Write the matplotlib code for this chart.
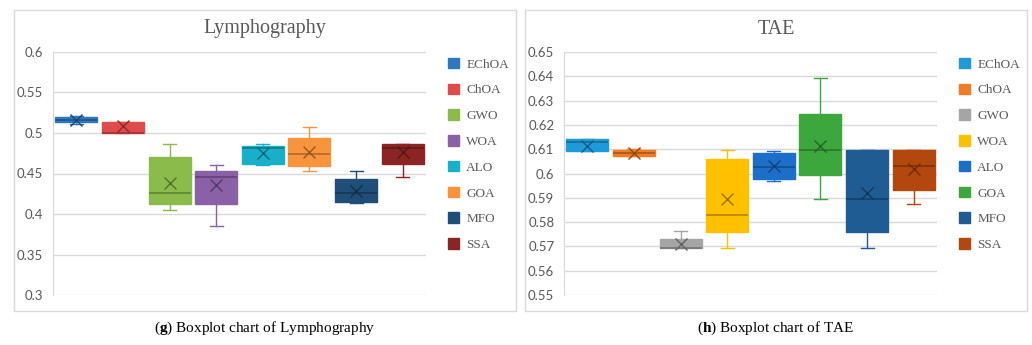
import matplotlib
matplotlib.use("Agg")
import matplotlib.pyplot as plt
from matplotlib.patches import Rectangle, Patch
from matplotlib.colors import to_rgb

# data
algos = ["EChOA", "ChOA", "GWO", "WOA", "ALO", "GOA", "MFO", "SSA"]

lym_min = [0.511, 0.500, 0.405, 0.385, 0.460, 0.453, 0.413, 0.446]
lym_q1 = [0.513, 0.500, 0.412, 0.412, 0.462, 0.459, 0.415, 0.462]
lym_med = [0.516, 0.500, 0.426, 0.446, 0.481, 0.474, 0.426, 0.481]
lym_q3 = [0.520, 0.514, 0.470, 0.453, 0.484, 0.494, 0.443, 0.487]
lym_max = [0.521, 0.514, 0.487, 0.460, 0.487, 0.508, 0.453, 0.487]
lym_mean = [0.516, 0.509, 0.438, 0.436, 0.475, 0.476, 0.428, 0.476]

tae_min = [0.6093, 0.6070, 0.5693, 0.5695, 0.5968, 0.5894, 0.5695, 0.5874]
tae_q1 = [0.6093, 0.6072, 0.5693, 0.5760, 0.5979, 0.5992, 0.5760, 0.5933]
tae_med = [0.6128, 0.6086, 0.5693, 0.5828, 0.6025, 0.6095, 0.5894, 0.6032]
tae_q3 = [0.6142, 0.6098, 0.5729, 0.6060, 0.6084, 0.6245, 0.6095, 0.6095]
tae_max = [0.6142, 0.6100, 0.5762, 0.6095, 0.6094, 0.6392, 0.6095, 0.6095]
tae_mean = [0.6115, 0.6086, 0.5710, 0.5895, 0.6032, 0.6112, 0.5921, 0.6017]

lym_colors = ["#2E78BE", "#E04A4A", "#8BBB4A", "#8A60A6", "#19AFC8", "#F9943C", "#1F4E79", "#8C2424"]
tae_colors = ["#1E9AD8", "#F27B25", "#A5A5A5", "#FFC000", "#1C6FC9", "#3CA73C", "#1F5C94", "#B4470E"]

lym_ticks = [0.3, 0.35, 0.4, 0.45, 0.5, 0.55, 0.6]
lym_ticklabels = ["0.3", "0.35", "0.4", "0.45", "0.5", "0.55", "0.6"]
tae_ticks = [0.55, 0.56, 0.57, 0.58, 0.59, 0.6, 0.61, 0.62, 0.63, 0.64, 0.65]
tae_ticklabels = ["0.55", "0.56", "0.57", "0.58", "0.59", "0.6", "0.61", "0.62", "0.63", "0.64", "0.65"]

plt.rcParams["mathtext.fontset"] = "custom"
plt.rcParams["mathtext.rm"] = "Liberation Serif"
plt.rcParams["mathtext.bf"] = "Liberation Serif:bold"

SERIF = "Liberation Serif"
SANS = "Lato"
GRID = "#D9D9D9"
TXT = "#595959"

W, H = 1032, 345
fig = plt.figure(figsize=(W / 100, H / 100), dpi=100)


def darker(c, f=0.7):
    r, g, b = to_rgb(c)
    return (r * f, g * f, b * f)


def panel(px0, px1, title, caption, mins, q1s, meds, q3s, maxs, means, colors, ticks, ticklabels):
    # outer frame
    fig.patches.append(Rectangle((px0 / W, 1 - 311 / H), (px1 - px0) / W, 301 / H,
                                 transform=fig.transFigure, fill=False, ec="#D9D9D9", lw=1))
    ax = fig.add_axes([(px0 + 39) / W, 50 / H, 373 / W, 243 / H])
    stats = []
    for i in range(len(algos)):
        stats.append(dict(med=meds[i], q1=q1s[i], q3=q3s[i], whislo=mins[i],
                          whishi=maxs[i], mean=means[i], fliers=[]))
    pos = list(range(1, len(algos) + 1))
    bp = ax.bxp(stats, positions=pos, widths=0.9, patch_artist=True, showmeans=True,
                capwidths=0.28, zorder=3)
    for i, c in enumerate(colors):
        bp["boxes"][i].set(facecolor=c, edgecolor=c, linewidth=1)
        bp["medians"][i].set(color=darker(c), linewidth=1.2)
        bp["means"][i].set(marker="x", markeredgecolor=darker(c, 0.6), markersize=8,
                           markeredgewidth=1)
        for ln in bp["whiskers"][2 * i:2 * i + 2] + bp["caps"][2 * i:2 * i + 2]:
            ln.set(color=c, linewidth=1)

    ax.set_xlim(0.5, len(algos) + 0.5)
    ax.set_ylim(ticks[0], ticks[-1])
    ax.set_yticks(ticks)
    ax.set_yticklabels(ticklabels, fontfamily=SANS, fontsize=9.5, color=TXT)
    ax.set_xticks([])
    ax.tick_params(axis="y", length=0, pad=7)
    ax.grid(axis="y", color=GRID, linewidth=1, zorder=0)
    ax.set_axisbelow(True)
    for s in ["top", "right", "bottom"]:
        ax.spines[s].set_visible(False)
    ax.spines["left"].set_color(GRID)

    handles = [Patch(facecolor=c, edgecolor=c, label=a) for a, c in zip(algos, colors)]
    ax.legend(handles=handles, loc="upper left", bbox_to_anchor=((px0 + 422) / W, 1 - 46 / H),
              bbox_transform=fig.transFigure, frameon=False, handlelength=0.85, handleheight=0.85,
              handletextpad=0.55, labelspacing=0.98,
              prop={"family": SERIF, "size": 9.5}, labelcolor=TXT)

    cx = (px0 + px1) / 2 / W
    fig.text(cx, 1 - 29 / H, title, ha="center", va="center", fontfamily=SERIF,
             fontsize=14.5, color=TXT)
    fig.text(cx, 1 - 328 / H, caption, ha="center", va="center", fontfamily=SERIF,
             fontsize=11, color="black")
    return ax


panel(14, 516, "Lymphography", r"($\mathbf{g}$) Boxplot chart of Lymphography",
      lym_min, lym_q1, lym_med, lym_q3, lym_max, lym_mean, lym_colors, lym_ticks, lym_ticklabels)
panel(525, 1027, "TAE", r"($\mathbf{h}$) Boxplot chart of TAE",
      tae_min, tae_q1, tae_med, tae_q3, tae_max, tae_mean, tae_colors, tae_ticks, tae_ticklabels)

fig.savefig("out.png", dpi=100, facecolor="white")
